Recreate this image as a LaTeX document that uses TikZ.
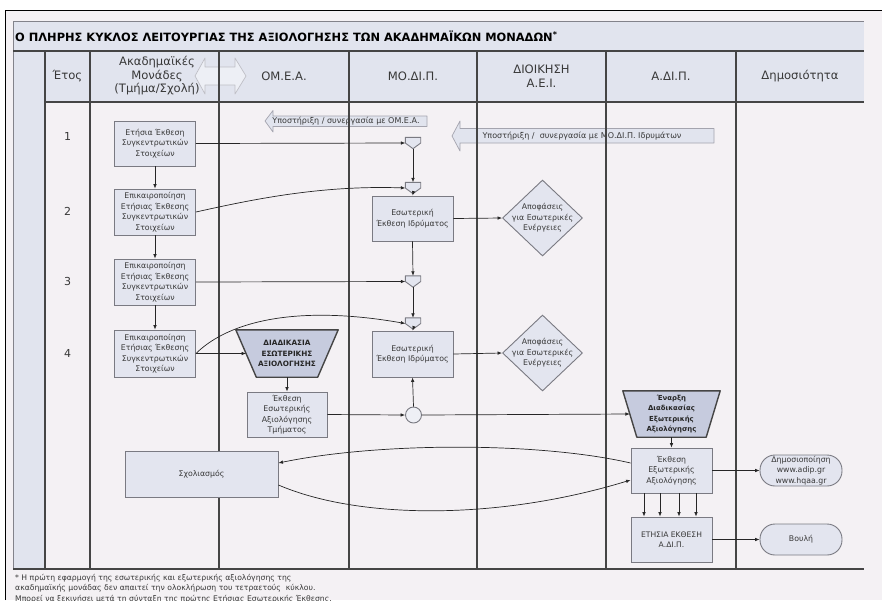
\documentclass[tikz,border=0pt]{standalone}
\usepackage{fontspec}
\setmainfont{DejaVu Sans}
\usetikzlibrary{arrows.meta,shapes.geometric}
\definecolor{pagebg}{HTML}{F4F1F4}
\definecolor{bandblue}{HTML}{E1E4EE}
\definecolor{boxfill}{HTML}{E3E5EF}
\definecolor{boxline}{HTML}{7A7A82}
\definecolor{gridline}{HTML}{454545}
\definecolor{trapfill}{HTML}{C6CBDE}
\definecolor{textgray}{HTML}{383838}
\definecolor{softline}{HTML}{A4A4AE}

\newcommand\mergeshape[1]{%
  \draw[boxline,fill=boxfill,line width=0.9pt,line join=round]
    (#1.north west) -- (#1.north east) -- (#1.east) -- (#1.south) -- (#1.west) -- cycle;}
\newcommand\trapshape[2]{%
  \draw[gridline,fill=trapfill,line width=1.4pt,line join=round]
    (#1.north west) -- (#1.north east) -- ([xshift=-#2]#1.south east) -- ([xshift=#2]#1.south west) -- cycle;}

\begin{document}
\begin{tikzpicture}[x=1pt,y=-1pt,
  boxtxt/.style={font=\fontsize{7.8}{10.5}\selectfont,text=textgray,align=center},
  box/.style={boxtxt,draw=boxline,fill=boxfill,line width=0.9pt,inner sep=1pt,
              minimum width=81pt,minimum height=46pt},
  merge/.style={minimum width=15pt,minimum height=11pt,inner sep=0pt},
  trap/.style={boxtxt,font=\bfseries\fontsize{7.3}{10.5}\selectfont,text=black!85,inner sep=0pt},
  decide/.style={diamond,draw=boxline,fill=boxfill,line width=0.9pt,inner sep=0pt,
                 minimum width=80pt,minimum height=76pt},
  term/.style={boxtxt,draw=boxline,fill=boxfill,line width=0.9pt,rounded corners=15pt,
               minimum width=82pt,minimum height=31pt,inner sep=0pt},
  head/.style={font=\fontsize{11.6}{13.5}\selectfont,text=textgray,align=center},
  year/.style={font=\fontsize{11}{13}\selectfont,text=textgray},
  note/.style={font=\fontsize{7.7}{9}\selectfont,text=textgray,anchor=west,inner sep=0pt},
  conn/.style={draw=black!85,line width=0.7pt,-{Latex[length=4.5pt,width=3.6pt]}},
  support/.style={draw=softline,fill=bandblue,line width=0.7pt,line join=round},
  suptxt/.style={boxtxt,font=\fontsize{8}{9}\selectfont},
]
\useasboundingbox (0,0) rectangle (882,600);
\clip (0,0) rectangle (882,600);

% page and frame
\fill[white] (0,0) rectangle (882,600);
\fill[pagebg] (5,10) rectangle (882,600);

% title band, header row, left strip
\fill[bandblue] (13,21) rectangle (864,51);
\fill[bandblue] (13,51) rectangle (45,569);
\fill[bandblue] (45,51) rectangle (864,102);

% double arrow between the units and OM.E.A.
\draw[support,draw=softline!70,fill=bandblue!60!white]
  (195,76) -- (205,58) -- (205,67) -- (235,67) -- (235,58) -- (246,76)
  -- (235,94) -- (235,85) -- (205,85) -- (205,94) -- cycle;

% support arrows
\draw[support] (265,121) -- (273,110.5) -- (273,116) -- (427,116) -- (427,126.5)
  -- (273,126.5) -- (273,132) -- cycle;
\draw[support] (452,136) -- (460,121) -- (460,128.5) -- (714,128.5) -- (714,143)
  -- (460,143) -- (460,151) -- cycle;
\node[suptxt] (sup1) at (346,121.5) {Υποστήριξη / συνεργασία με ΟΜ.Ε.Α.};
\node[suptxt] (sup2) at (582,136) {Υποστήριξη /\ \ συνεργασία με ΜΟ.ΔΙ.Π. Ιδρυμάτων};

% grid lines
\draw[softline!80!black,line width=0.8pt] (13,21) -- (864,21);
\draw[softline!80!black,line width=0.9pt] (13,21) -- (13,569);
\draw[gridline,line width=1.1pt] (13,51) -- (864,51);
\draw[gridline,line width=1.1pt] (45,102) -- (864,102);
\draw[gridline,line width=1.1pt] (13,569) -- (864,569);
\foreach \cx in {45,90,219,349,477,606,736}
  \draw[gridline,line width=1.1pt] (\cx,51) -- (\cx,569);

% outer frame
\draw[black,line width=1pt] (5,600) -- (5,10) -- (882,10);

% title
\node[anchor=west,inner sep=0pt,font=\bfseries\fontsize{11.4}{13}\selectfont] (title) at (15,36.5)
  {Ο ΠΛΗΡΗΣ ΚΥΚΛΟΣ ΛΕΙΤΟΥΡΓΙΑΣ ΤΗΣ ΑΞΙΟΛΟΓΗΣΗΣ ΤΩΝ ΑΚΑΔΗΜΑΪΚΩΝ ΜΟΝΑΔΩΝ\textsuperscript{*}};

% column headers
\node[head] (hYear) at (67.5,76.5) {Έτος};
\node[head] (hUnit) at (157,76) {Ακαδημαϊκές\\Μονάδες\\(Τμήμα/Σχολή)};
\node[head] (hOmea) at (284,76.5) {ΟΜ.Ε.Α.};
\node[head] (hModip) at (413,76.5) {ΜΟ.ΔΙ.Π.};
\node[head] (hAdmin) at (541.5,76) {ΔΙΟΙΚΗΣΗ\\Α.Ε.Ι.};
\node[head] (hAdip) at (671,76.5) {Α.ΔΙ.Π.};
\node[head] (hPub) at (800,76.5) {Δημοσιότητα};

% years
\node[year] (y1) at (67.5,136) {1};
\node[year] (y2) at (67.5,211) {2};
\node[year] (y3) at (67.5,281) {3};
\node[year] (y4) at (67.5,353) {4};

% academic unit reports
\node[box,minimum height=45pt] (B1) at (155,143.5) {Ετήσια Έκθεση\\Συγκεντρωτικών\\Στοιχείων};
\node[box] (B2) at (155,212) {Επικαιροποίηση\\Ετήσιας Έκθεσης\\Συγκεντρωτικών\\Στοιχείων};
\node[box] (B3) at (155,282) {Επικαιροποίηση\\Ετήσιας Έκθεσης\\Συγκεντρωτικών\\Στοιχείων};
\node[box,minimum height=47pt] (B4) at (155,353.5) {Επικαιροποίηση\\Ετήσιας Έκθεσης\\Συγκεντρωτικών\\Στοιχείων};

% MO.DI.P. merge points and internal reports
\node[merge] (M1) at (413,143) {};
\node[merge] (M2) at (413,188) {};
\node[merge] (M3) at (413,281.5) {};
\node[merge] (M4) at (413,323.5) {};
\mergeshape{M1}\mergeshape{M2}\mergeshape{M3}\mergeshape{M4}
\node[box,minimum height=45pt] (E1) at (412.5,218.5) {Εσωτερική\\Έκθεση Ιδρύματος};
\node[box] (E2) at (412.5,354) {Εσωτερική\\Έκθεση Ιδρύματος};
\node[draw=boxline,fill=boxfill!60!white,line width=0.9pt,circle,minimum size=16pt,inner sep=0pt] (C) at (413.5,415) {};

% administration decisions
\node[decide,label={[boxtxt]center:{Αποφάσεις\\για Εσωτερικές\\Ενέργειες}}] (D1) at (542.5,218) {};
\node[decide,label={[boxtxt]center:{Αποφάσεις\\για Εσωτερικές\\Ενέργειες}}] (D2) at (542.5,353) {};

% OM.E.A. internal evaluation
\node[trap,minimum width=102pt,minimum height=47pt] (T1) at (287,353.5) {};
\trapshape{T1}{20.5pt}
\node[trap] (T1t) at (T1) {ΔΙΑΔΙΚΑΣΙΑ\\ΕΣΩΤΕΡΙΚΗΣ\\ΑΞΙΟΛΟΓΗΣΗΣ};
\node[box,minimum width=80pt,minimum height=45pt] (EI) at (287,414.5) {Έκθεση\\Εσωτερικής\\Αξιολόγησης\\Τμήματος};

% A.DI.P. external evaluation
\node[trap,minimum width=97pt,minimum height=46pt] (T2) at (671.5,414) {};
\trapshape{T2}{14pt}
\node[trap,font=\bfseries\fontsize{6.9}{10.3}\selectfont] (T2t) at (T2) {Έναρξη\\Διαδικασίας\\Εξωτερικής\\Αξιολόγησης};
\node[box,minimum height=45pt] (X) at (671.5,470.5) {Έκθεση\\Εξωτερικής\\Αξιολόγησης};
\node[box,minimum height=45pt,font=\fontsize{7.6}{10.5}\selectfont] (Y) at (671.5,539.5) {ΕΤΗΣΙΑ ΕΚΘΕΣΗ\\Α.ΔΙ.Π.};

% comments and publicity
\node[box,minimum width=153pt,minimum height=46pt] (S) at (201.5,474) {Σχολιασμός};
\node[term] (P) at (801,470.5) {Δημοσιοποίηση\\www.adip.gr\\www.hqaa.gr};
\node[term] (V) at (801,539.5) {Βουλή};

% connectors: academic unit column
\draw[conn] (B1.south) -- (B2.north);
\draw[conn] (B2.south) -- (B3.north);
\draw[conn] (B3.south) -- (B4.north);
\draw[conn] (B1.east) -- (M1.west);
\draw[conn] (B2.east) .. controls (250,200) and (320,185) .. (M2.west);
\draw[conn] (B3.east) -- (M3.west);
\draw[conn] (B4.east) .. controls (230,320) and (300,305) .. (M4.west);
\draw[conn] (B4.east) -- ([xshift=10.25pt]T1.west);

% connectors: MO.DI.P. column
\draw[conn] (M1.south) -- (M2.north);
\draw[conn] (M2.south) -- (E1.north);
\draw[conn] (E1.south) -- (M3.north);
\draw[conn] (M3.south) -- (M4.north);
\draw[conn] (M4.south) -- (E2.north);
\draw[conn] (E1.east) -- (D1.west);
\draw[conn] (E2.east) -- (D2.west);
\draw[conn] (C.north) -- (E2.south);

% connectors: evaluation flow
\draw[conn] (T1.south) -- (EI.north);
\draw[conn] (EI.east) -- (C.west);
\draw[conn] (C.east) -- ([xshift=7pt]T2.west);
\draw[conn] (T2.south) -- (X.north);
\foreach \dx in {-27.5,-11.5,7.5,24.5}
  \draw[conn] ([xshift=\dx pt]X.south) -- ([xshift=\dx pt]Y.north);
\draw[conn] (X.east) -- (P.west);
\draw[conn] (Y.east) -- (V.west);
\draw[conn] ([yshift=7.5pt]X.west) .. controls (540,442) and (380,442) .. ([yshift=11pt]S.east);
\draw[conn] ([yshift=-11pt]S.east) .. controls (360,520) and (500,520) .. ([yshift=-9.5pt]X.west);

% footnote
\node[note] (n1) at (15,578) {* Η πρώτη εφαρμογή της εσωτερικής και εξωτερικής αξιολόγησης της};
\node[note] (n2) at (15,588.5) {ακαδημαϊκής μονάδας δεν απαιτεί την ολοκλήρωση του τετραετούς\ \ κύκλου.};
\node[note] (n3) at (15,599) {Μπορεί να ξεκινήσει μετά τη σύνταξη της πρώτης Ετήσιας Εσωτερικής Έκθεσης.};
\end{tikzpicture}
\end{document}
